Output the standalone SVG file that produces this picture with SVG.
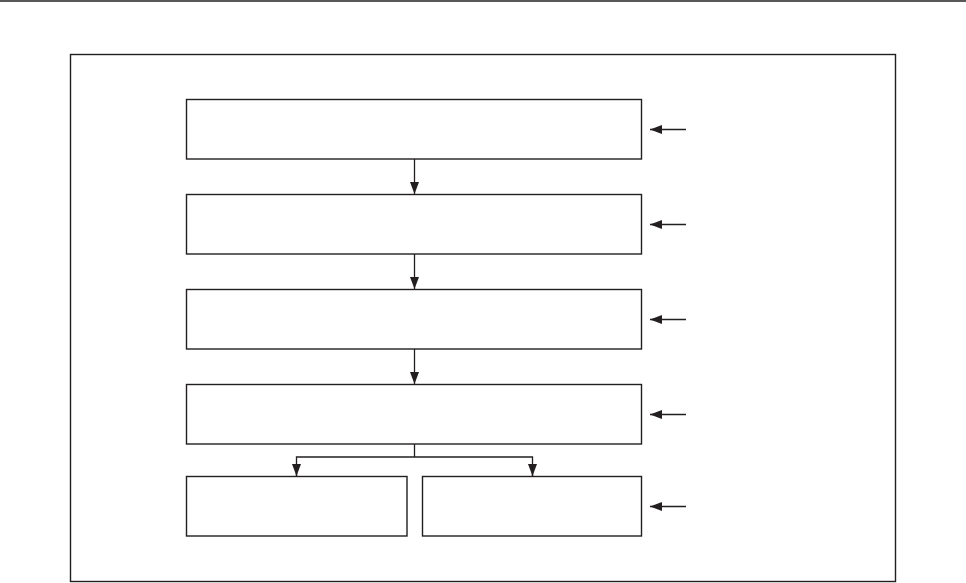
<svg xmlns="http://www.w3.org/2000/svg" width="966" height="583" viewBox="0 0 966 583">
<style>
.b{fill:#fff;stroke:#231f20;stroke-width:1.4}
.c{fill:none;stroke:#231f20;stroke-width:1.3}
</style>
<defs>
<marker id="ah" markerUnits="userSpaceOnUse" markerWidth="13" markerHeight="11" refX="12" refY="5.5" orient="auto">
<path d="M0,1 L12,5.5 L0,10 Z" fill="#231f20"/>
</marker>
</defs>
<rect width="966" height="583" fill="#fff"/>
<line x1="0" y1="1" x2="966" y2="1" stroke="#231f20" stroke-width="1.5"/>
<rect id="frame" x="70.5" y="54.5" width="825" height="527" fill="none" stroke="#231f20" stroke-width="1.4"/>
<g id="n1"><rect class="b" x="186.5" y="99.5" width="455" height="59.5"/></g>
<g id="n2"><rect class="b" x="186.5" y="194.5" width="455" height="59.5"/></g>
<g id="n3"><rect class="b" x="186.5" y="289.5" width="455" height="59.5"/></g>
<g id="n4"><rect class="b" x="186.5" y="384.5" width="455" height="59.5"/></g>
<g id="n5a"><rect class="b" x="186.5" y="476.5" width="220.5" height="59.5"/></g>
<g id="n5b"><rect class="b" x="422.5" y="476.5" width="219" height="59.5"/></g>
<g id="connectors">
<line class="c" x1="414.5" y1="159" x2="414.5" y2="194" marker-end="url(#ah)"/>
<line class="c" x1="414.5" y1="254" x2="414.5" y2="289" marker-end="url(#ah)"/>
<line class="c" x1="414.5" y1="349" x2="414.5" y2="384" marker-end="url(#ah)"/>
<line class="c" x1="414.5" y1="444" x2="414.5" y2="457"/>
<polyline class="c" points="296.5,476 296.5,457 532.5,457 532.5,476"/>
<line class="c" x1="296.5" y1="465" x2="296.5" y2="476" marker-end="url(#ah)"/>
<line class="c" x1="532.5" y1="465" x2="532.5" y2="476" marker-end="url(#ah)"/>
<line class="c" x1="686" y1="129.5" x2="650" y2="129.5" marker-end="url(#ah)" stroke="#999"/>
<line class="c" x1="686" y1="224.5" x2="650" y2="224.5" marker-end="url(#ah)"/>
<line class="c" x1="686" y1="319.5" x2="650" y2="319.5" marker-end="url(#ah)"/>
<line class="c" x1="686" y1="414.5" x2="650" y2="414.5" marker-end="url(#ah)"/>
<line class="c" x1="686" y1="506.5" x2="650" y2="506.5" marker-end="url(#ah)"/>
</g>
</svg>
